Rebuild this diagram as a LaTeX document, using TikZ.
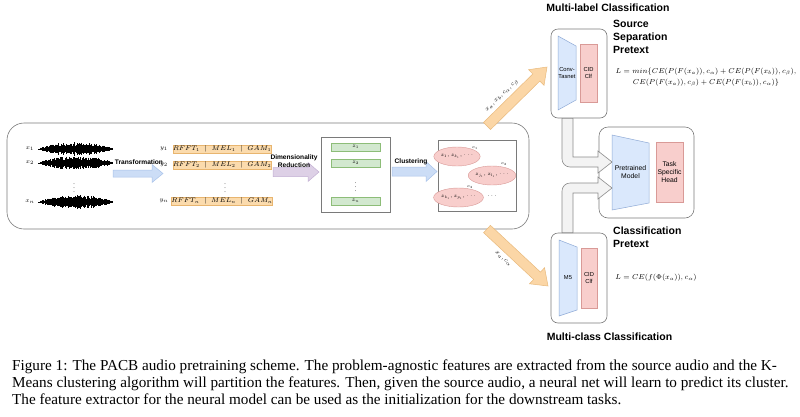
\RequirePackage{fix-cm}
\documentclass[tikz,border=0pt]{standalone}
\usepackage{fontspec}
\setmainfont{Liberation Serif}
\newfontfamily\hel{Liberation Sans}
\usetikzlibrary{calc,shapes.geometric}
\definecolor{boxgray}{HTML}{7A7A7A}
\definecolor{arrblue}{HTML}{CCDDF6}
\definecolor{arrbluedraw}{HTML}{A9C3EA}
\definecolor{arrpurp}{HTML}{DDD0E6}
\definecolor{arrpurpdraw}{HTML}{C3B0D3}
\definecolor{arrorange}{HTML}{FBD6A6}
\definecolor{arrorangedraw}{HTML}{E9BA7C}
\definecolor{barorange}{HTML}{FBDBAD}
\definecolor{barorangedraw}{HTML}{E8B56F}
\definecolor{bargreen}{HTML}{D2E8CF}
\definecolor{bargreendraw}{HTML}{8DBD78}
\definecolor{trapblue}{HTML}{DAE8FC}
\definecolor{trapbluedraw}{HTML}{8FAAD6}
\definecolor{redfill}{HTML}{F8CECC}
\definecolor{reddraw}{HTML}{D99A97}
\definecolor{grayfill}{HTML}{F3F3F3}
\definecolor{graydraw}{HTML}{8C8C8C}
\newcommand\blkarrow[6]{%
  \path ($(#3)!#6!(#2)$) coordinate (tmpc);
  \draw[#1] ($(#2)!#4!90:(#3)$) -- ($(tmpc)!#4!90:(#3)$) -- ($(tmpc)!#5!90:(#3)$) -- (#3)
    -- ($(tmpc)!#5!-90:(#3)$) -- ($(tmpc)!#4!-90:(#3)$) -- ($(#2)!#4!-90:(#3)$) -- cycle;}
\newcommand\wavedraw[1]{%
  \draw[line width=0.8pt] (38,#1) -- (113,#1);
  \foreach \i in {0,...,100}{%
    \pgfmathsetmacro\hh{(0.8+6.2*sin(1.8*\i)^0.7)*(0.45+0.55*rnd)}
    \draw[line width=0.85pt] ({40+0.72*\i},{#1-\hh}) -- ({40+0.72*\i},{#1+\hh});}}
\begin{document}
\begin{tikzpicture}[x=1pt,y=-1pt,
  boxst/.style={draw=boxgray, line width=0.6pt, fill=white},
  lblb/.style={font=\hel\bfseries\fontsize{6.6}{7.6}\selectfont, inner sep=0pt, align=center},
  ttl/.style={font=\hel\bfseries\fontsize{10.5}{12.8}\selectfont, inner sep=0pt, align=left},
  smalltxt/.style={font=\hel\fontsize{6}{7}\selectfont, inner sep=0pt, align=center},
  mth/.style={font=\fontsize{6}{7}\selectfont, inner sep=0pt},
  obar/.style={draw=barorangedraw, fill=barorange, line width=0.4pt, minimum width=96pt, minimum height=8.5pt, inner sep=0pt, font=\fontsize{6.6}{7.5}\selectfont},
  gbar/.style={draw=bargreendraw, fill=bargreen, line width=0.4pt, minimum width=49pt, minimum height=8pt, inner sep=0pt, font=\fontsize{5.5}{6.5}\selectfont},
  ell/.style={ellipse, draw=reddraw, fill=redfill, line width=0.4pt, inner sep=0pt, font=\fontsize{5.2}{6}\selectfont},
  trap/.style={draw=trapbluedraw, fill=trapblue, line width=0.5pt},
  redbox/.style={draw=reddraw, fill=redfill, line width=0.5pt},
  blueArr/.style={fill=arrblue, draw=arrbluedraw, line width=0.5pt},
  purpArr/.style={fill=arrpurp, draw=arrpurpdraw, line width=0.5pt},
  orArr/.style={fill=arrorange, draw=arrorangedraw, line width=0.5pt},
  grayArr/.style={fill=grayfill, draw=graydraw, line width=0.6pt},
  captxt/.style={font=\fontsize{15.2}{17}\selectfont, inner sep=0pt, anchor=base west}
]
\useasboundingbox (0,0) rectangle (800,416);
\fill[white] (0,0) rectangle (800,416);

% big container
\node[boxst, rounded corners=17pt, minimum width=522pt, minimum height=106pt] (big) at (268,176) {};

% waveforms
\pgfmathsetseed{11}
\wavedraw{149}
\wavedraw{163}
\wavedraw{202}
\node[mth] (x1) at (30,149) {$x_1$};
\node[mth] (x2) at (30,163) {$x_2$};
\node[mth] (xd) at (74,185) {$\vdots$};
\node[mth] (xn) at (30,202) {$x_n$};

% transformation arrow
\coordinate (ta) at (113,173.5);
\coordinate (tb) at (163,173.5);
\blkarrow{blueArr}{ta}{tb}{3.5pt}{9pt}{11pt}
\node[lblb] (tl) at (139,162) {Transformation};

% feature bars
\node[mth] (y1) at (164,149) {$y_1$};
\node[mth] (y2) at (164,165) {$y_2$};
\node[mth] (yn) at (164,201) {$y_n$};
\node[obar] (b1) at (222,149) {$RFFT_1 \;\mid\; MEL_1 \;\mid\; GAM_1$};
\node[obar] (b2) at (222,165) {$RFFT_2 \;\mid\; MEL_2 \;\mid\; GAM_2$};
\node[mth] (bd) at (225,185) {$\vdots$};
\node[obar] (bn) at (222,201) {$RFFT_n \;\mid\; MEL_n \;\mid\; GAM_n$};

% dimensionality reduction arrow
\coordinate (da) at (273,172);
\coordinate (db) at (319,172);
\blkarrow{purpArr}{da}{db}{4.5pt}{9.5pt}{11pt}
\node[lblb] (dl) at (294,161) {Dimensionality\\Reduction};

% z box
\node[boxst, minimum width=69pt, minimum height=75pt, inner sep=0pt] (zbox) at (355.5,174.5) {};
\node[gbar] (z1) at (355.5,147) {$z_1$};
\node[gbar] (z2) at (355.5,163) {$z_2$};
\node[mth] (zd) at (355.5,184) {$\vdots$};
\node[gbar] (zn) at (355.5,201) {$z_n$};

% clustering arrow
\coordinate (ca) at (392,171.5);
\coordinate (cb) at (437,171.5);
\blkarrow{blueArr}{ca}{cb}{4.5pt}{10pt}{11pt}
\node[lblb] (cl) at (411,162) {Clustering};

% cluster box
\node[boxst, minimum width=78pt, minimum height=71pt, inner sep=0pt] (cbox) at (477,175.5) {};
\node[ell, minimum width=31pt, minimum height=19pt] (e1) at (457,156.5) {$z_1, z_{k_1}, \cdots$};
\node[ell, minimum width=34pt, minimum height=19pt] (e2) at (492,175.5) {$z_{j_1}, z_{l_1}, \cdots$};
\node[ell, minimum width=34pt, minimum height=19pt] (e3) at (458.5,197.5) {$z_{k_1}, z_{p_1}, \cdots$};
\node[font=\fontsize{4.5}{5}\selectfont, inner sep=0] (c1) at (475,148) {$c_1$};
\node[font=\fontsize{4.5}{5}\selectfont, inner sep=0] (c2) at (504,164) {$c_2$};
\node[font=\fontsize{4.5}{5}\selectfont, inner sep=0] (c3) at (470,187) {$c_3$};
\node[mth] (cdots) at (492,196) {$\cdots$};

% diagonal arrows
\coordinate (ua) at (487,126);
\coordinate (ub) at (547,67);
\blkarrow{orArr}{ua}{ub}{5pt}{11pt}{15pt}
\node[mth, rotate=44] (ul) at (502.5,96) {$x_a, x_b, c_\alpha, c_\beta$};
\coordinate (la) at (487,229);
\coordinate (lb) at (548,286);
\blkarrow{orArr}{la}{lb}{5pt}{11pt}{15pt}
\node[mth, rotate=-43] (ll) at (503,259) {$x_a, c_\alpha$};

% top model box
\node[boxst, rounded corners=7pt, minimum width=56pt, minimum height=89pt] (mt) at (579,73.5) {};
\draw[trap] (558,36) -- (576,46) -- (576,100) -- (558,110) -- cycle;
\node[smalltxt, font=\hel\fontsize{5.8}{6.8}\selectfont] (mtt) at (567,73) {Conv-\\Tasnet};
\draw[redbox] (580,44) rectangle (597,102);
\node[smalltxt, font=\hel\fontsize{5.8}{6.8}\selectfont] (mtc) at (588.5,73) {CID\\Clf};

% bottom model box
\node[boxst, rounded corners=7pt, minimum width=56pt, minimum height=90pt] (mb) at (579,278) {};
\draw[trap] (559,240) -- (577,247) -- (577,310) -- (559,316) -- cycle;
\node[smalltxt, font=\hel\fontsize{5.8}{6.8}\selectfont] (mbt) at (568,278) {M5};
\draw[redbox] (581,248) rectangle (597,308);
\node[smalltxt, font=\hel\fontsize{5.8}{6.8}\selectfont] (mbc) at (589,278) {CID\\Clf};

% middle (pretrained) box
\node[boxst, rounded corners=9pt, minimum width=95pt, minimum height=91pt] (mm) at (646.5,172.5) {};
\draw[trap] (612,135) -- (649,143) -- (649,203) -- (612,210) -- cycle;
\node[smalltxt, font=\hel\fontsize{6.8}{8}\selectfont] (mmt) at (630.5,172.5) {Pretrained\\Model};
\draw[redbox] (656,142) rectangle (683,202);
\node[smalltxt, font=\hel\fontsize{6.8}{8}\selectfont] (mmh) at (669.5,172) {Task\\Specific\\Head};

% gray elbow arrows
\draw[grayArr] (mt.south -| 562,0) -- (mt.south -| 573,0) -- (573,157) -- (598,157) -- (598,151) -- (612,162)
  -- (598,173) -- (598,167) [rounded corners=8pt] -- (562,167) [sharp corners] -- cycle;
\draw[grayArr] (mb.north -| 562,0) -- (mb.north -| 573,0) -- (573,193) -- (598,193) -- (598,199) -- (612,188)
  -- (598,177) -- (598,183) [rounded corners=8pt] -- (562,183) [sharp corners] -- cycle;

% titles and formulas
\node[ttl] (t1) at (608,8) {Multi-label Classification};
\node[ttl, anchor=north west] (t2) at (613,20) {Source\\Separation\\Pretext};
\node[font=\fontsize{7.2}{11}\selectfont, inner sep=0pt, align=center] (f1) at (706,77)
  {$L = min\{CE(P(F(x_a)), c_\alpha) + CE(P(F(x_b)), c_\beta),$\\
   $CE(P(F(x_a)), c_\beta) + CE(P(F(x_b)), c_\alpha)\}$};
\node[ttl, anchor=north west] (t3) at (613,227) {Classification\\Pretext};
\node[font=\fontsize{7.2}{9}\selectfont, inner sep=0pt] (f2) at (656,278) {$L = CE(f(\Phi(x_a)), c_\alpha)$};
\node[ttl] (t4) at (609.5,337) {Multi-class Classification};

% caption
\node[captxt] (cap1) at (12,370) {Figure 1: The PACB audio pretraining scheme. The problem-agnostic features are extracted from the source audio and the K-};
\node[captxt] (cap2) at (12,387) {Means clustering algorithm will partition the features. Then, given the source audio, a neural net will learn to predict its cluster.};
\node[captxt] (cap3) at (12,404) {The feature extractor for the neural model can be used as the initialization for the downstream tasks.};
\end{tikzpicture}
\end{document}
